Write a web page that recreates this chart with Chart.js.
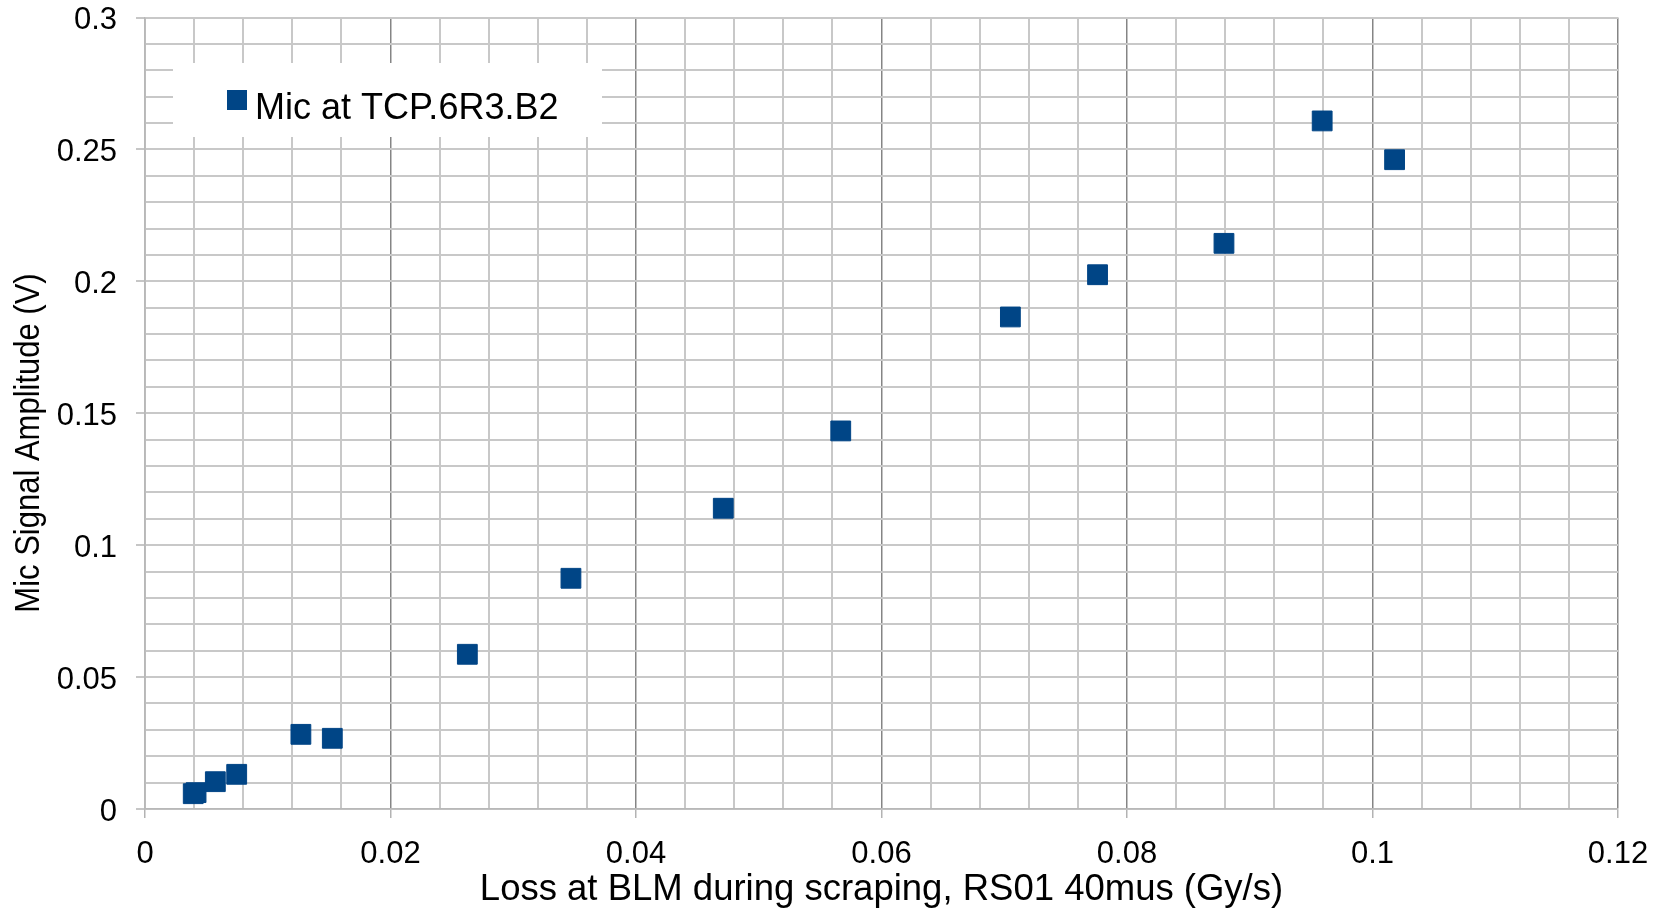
<!DOCTYPE html>
<html>
<head>
<meta charset="utf-8">
<title>Mic signal vs BLM loss</title>
<script src="https://cdn.jsdelivr.net/npm/chart.js@4/dist/chart.umd.min.js"></script>
<style>
  html, body { margin: 0; padding: 0; background: #ffffff; }
  #wrap { width: 1662px; height: 912px; position: relative; }
</style>
</head>
<body>
<div id="wrap"><canvas id="chart"></canvas></div>
<script>
// Measured loss at the BLM (Gy/s) and microphone amplitude (V)
const seriesLabel = 'Mic at TCP.6R3.B2';
const blmLoss = [0.00393, 0.00416, 0.00573, 0.00747, 0.0127, 0.01526, 0.02626, 0.0347,
                 0.04711, 0.05668, 0.0705, 0.0776, 0.0879, 0.0959, 0.1018];
const micAmplitude = [0.0058, 0.0062, 0.01035, 0.01315, 0.0283, 0.0268, 0.05864, 0.08745,
                      0.1140, 0.1433, 0.1865, 0.2025, 0.2144, 0.2608, 0.2461];

// Labelled tick values; minor grid steps sit between them
const xTickLabels = ['0', '0.02', '0.04', '0.06', '0.08', '0.1', '0.12'];
const yTickLabels = ['0', '0.05', '0.1', '0.15', '0.2', '0.25', '0.3'];
const xMajorStep = 0.02, xMinorStep = 0.004;
const yMajorStep = 0.05, yMinorStep = 0.01;

const xTitle = 'Loss at BLM during scraping, RS01 40mus (Gy/s)';
const yTitle = 'Mic Signal Amplitude (V)';

const FONT = '"Liberation Sans", Arial, sans-serif';
const SERIES_COLOR = '#004586';

const isMajor = (v, step) => Math.abs(v / step - Math.round(v / step)) < 1e-6;
const labelFor = (v, step, labels) => {
  if (!isMajor(v, step)) return '';
  const i = Math.round(v / step);
  return labels[i] !== undefined ? labels[i] : '';
};

// Legend box drawn over the grid, under the markers
const boxLegend = {
  id: 'boxLegend',
  beforeDatasetsDraw(chart) {
    const ctx = chart.ctx;
    const ds = chart.data.datasets[0];
    ctx.save();
    ctx.fillStyle = '#ffffff';
    ctx.fillRect(173, 63, 429, 74);
    ctx.fillStyle = ds.backgroundColor;
    ctx.fillRect(227, 90, 20, 20);
    ctx.fillStyle = '#000000';
    ctx.font = '36px ' + FONT;
    ctx.textAlign = 'left';
    ctx.textBaseline = 'alphabetic';
    ctx.fillText(ds.label, 255, 118.5);
    ctx.restore();
  }
};

// Vertical axis title, rotated, with slightly widened glyphs
const yAxisTitle = {
  id: 'yAxisTitle',
  afterDraw(chart) {
    const ctx = chart.ctx;
    ctx.save();
    ctx.translate(39, 443);
    ctx.rotate(-Math.PI / 2);
    ctx.scale(1, 1.15);
    ctx.fillStyle = '#000000';
    ctx.font = '31px ' + FONT;
    ctx.textAlign = 'center';
    ctx.textBaseline = 'alphabetic';
    ctx.fillText(yTitle, 0, 0);
    ctx.restore();
  }
};

const points = blmLoss.map((x, i) => ({ x: x, y: micAmplitude[i] }));

new Chart(document.getElementById('chart'), {
  type: 'scatter',
  data: {
    datasets: [{
      label: seriesLabel,
      data: points,
      pointStyle: 'rect',
      pointRadius: 14,
      pointHoverRadius: 14,
      backgroundColor: SERIES_COLOR,
      borderColor: SERIES_COLOR,
      borderWidth: 1
    }]
  },
  options: {
    responsive: true,
    maintainAspectRatio: false,
    animation: false,
    events: [],
    layout: { padding: { left: 0, top: 17.5, right: 44, bottom: 0 } },
    plugins: {
      legend: { display: false },
      tooltip: { enabled: false }
    },
    scales: {
      x: {
        type: 'linear',
        min: 0,
        max: 0.12,
        afterFit(scale) {
          scale.height = 103;
          scale.paddingLeft = 0;
          scale.paddingRight = 0;
        },
        ticks: {
          stepSize: xMinorStep,
          autoSkip: false,
          maxRotation: 0,
          padding: 18,
          color: '#000000',
          font: { family: FONT, size: 31 },
          callback: (v) => labelFor(v, xMajorStep, xTickLabels)
        },
        grid: {
          drawTicks: true,
          tickLength: 9,
          lineWidth: (c) => isMajor(c.tick.value, xMajorStep) ? 1.5 : 2,
          color: (c) => isMajor(c.tick.value, xMajorStep) ? '#858585' : '#c8c8c8',
          tickColor: (c) => isMajor(c.tick.value, xMajorStep) ? '#b3b3b3' : 'rgba(0,0,0,0)',
          tickWidth: 1.5
        },
        border: { display: true, color: '#b8b8b8', width: 1.5 },
        title: {
          display: true,
          text: xTitle,
          color: '#000000',
          font: { family: FONT, size: 36.5 },
          padding: { top: 0, bottom: 0 }
        }
      },
      y: {
        type: 'linear',
        min: 0,
        max: 0.3,
        afterFit(scale) {
          scale.width = 145;
          scale.paddingTop = 0;
          scale.paddingBottom = 0;
        },
        ticks: {
          stepSize: yMinorStep,
          autoSkip: false,
          padding: 19,
          labelOffset: 3,
          color: '#000000',
          font: { family: FONT, size: 31 },
          callback: (v) => labelFor(v, yMajorStep, yTickLabels)
        },
        grid: {
          drawTicks: true,
          tickLength: 9,
          lineWidth: 2,
          color: '#c8c8c8',
          tickColor: (c) => isMajor(c.tick.value, yMajorStep) ? '#b3b3b3' : 'rgba(0,0,0,0)',
          tickWidth: 1.5
        },
        border: { display: true, color: '#b8b8b8', width: 1.5 },
        title: { display: false, text: yTitle }
      }
    }
  },
  plugins: [boxLegend, yAxisTitle]
});
</script>
</body>
</html>
